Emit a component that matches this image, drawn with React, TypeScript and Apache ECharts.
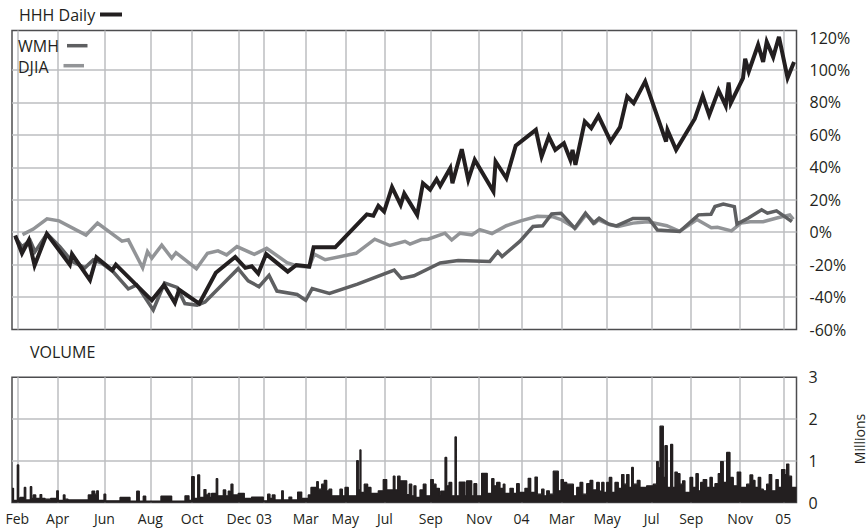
import React, { useEffect, useRef } from 'react';
import * as echarts from 'echarts';

// x values are days counted from 1 Feb 2002
const tickDays = [0, 56, 121, 185, 243, 308, 343, 401, 456, 511, 575, 642, 701, 757, 820, 882, 937, 1005, 1065];
const tickLabels = ['Feb', 'Apr', 'Jun', 'Aug', 'Oct', 'Dec', '03', 'Mar', 'May', 'Jul', 'Sep', 'Nov', '04', 'Mar', 'May', 'Jul', 'Sep', 'Nov', '05'];
const percentLabels = [-60, -40, -20, 0, 20, 40, 60, 80, 100, 120];
const percentGrid = [-40, -20, 0, 20, 40, 60, 80, 100];
const volumeLabels = [0, 1, 2, 3];
const volumeGrid = [1, 2];

const hhhDaily = [
  [-3, -2], [6.5, -13], [16, -5], [24, -20.5], [41, -1], [73, -20], [76, -13.5], [101, -29.5], [110, -15.5],
  [132, -23.5], [137, -20], [187, -42], [204, -32.5], [219, -43.5], [225, -35.5], [253, -44], [276, -25],
  [303, -15.3], [317, -22], [326, -21], [335, -25.5], [346, -13.5], [376, -24.3], [388, -20.2], [406, -21.2],
  [412, -9.3], [442, -9.3], [486, 11], [495, 10.2], [502, 16.2], [510, 12.7], [521, 27.8], [533, 16.9],
  [538, 23.8], [556, 10.7], [564, 30.2], [574, 26.3], [583, 32.7], [588, 28.6], [602, 39.5], [605, 30.2],
  [618, 51.2], [627, 32.3], [636, 44.6], [662, 25.1], [665, 43.6], [680, 33.3], [693, 53.3], [721, 63.1],
  [729, 46.7], [739, 59], [748, 50.8], [760, 54.9], [769, 44.6], [772, 50.8], [776, 41.5], [789, 68.3],
  [798, 64.2], [808, 71.8], [825, 56], [838, 64.8], [848, 83.7], [857, 79.6], [873, 93], [902, 55.9],
  [904, 63], [916, 50.8], [942, 70], [953, 84], [962, 72.2], [975, 87.5], [985, 78], [989, 92.3], [992, 79.6],
  [1009, 95], [1012, 107], [1017, 99.1], [1030, 115.6], [1037, 105], [1042, 117.5], [1051, 108], [1059, 120.5],
  [1071, 95.2], [1080, 105],
];

const wmh = [
  [-3, -3], [6.5, -9], [17.7, -5], [24.6, -12], [41.3, -1], [59.4, -9], [76, -18], [94, -22], [105.7, -17],
  [117.3, -19], [133, -24.3], [154.3, -35], [166, -32.5], [189, -48], [204.7, -31.3], [222, -34], [233, -44],
  [250, -45], [261, -43], [307, -22.5], [321, -30], [336, -33.6], [350, -26.6], [361, -36.3], [389, -38.4],
  [401, -42], [410, -34.8], [434, -37.7], [473, -32], [524, -23.3], [534, -28.5], [551.5, -26.9], [588, -19],
  [613, -17.5], [657, -18], [668, -12], [674, -15], [699, -5.5], [717, 3.5], [730.5, 4], [743, 11.3],
  [756, 11.7], [775, 2.5], [790, 11.8], [801, 5.6], [809, 8.6], [822, 5.1], [833, 3.9], [856, 8.5],
  [878, 8.5], [890, 1.4], [921, 0.4], [947, 10.7], [964.5, 11.1], [970, 15.8], [981.6, 17.3], [997, 15.8],
  [1000.6, 5], [1016.6, 8.8], [1035, 13.8], [1043, 11.7], [1055.6, 13.2], [1077, 6.5],
];

const djia = [
  [7.2, -1.5], [22.2, 1.9], [41.3, 8.3], [58, 7], [95.5, -1.7], [111.5, 5.7], [145.6, -5.5], [154.3, -4.7],
  [174.3, -22], [181, -12], [187, -16], [200.8, -8], [214.7, -16], [220.6, -12.6], [249, -22.5], [264.4, -13],
  [279, -11.5], [291, -14], [305.4, -8.9], [329.5, -13.7], [346.7, -9.9], [375, -18.8], [389, -20.8],
  [405.5, -21.6], [413, -13.5], [428, -17], [471, -13], [497, -4.3], [518, -8.2], [539, -5.6], [546, -7.3],
  [562, -4.5], [571, -4.3], [594.6, -0.6], [604, -4.8], [615.5, -0.6], [632, -1.7], [643, 1.6], [660, -0.8],
  [680, 4], [700, 7], [723, 9.8], [744, 9.6], [757, 7.6], [776, 2.5], [791, 10.9], [803, 5.6], [808, 7.6],
  [824, 4.5], [835.6, 3.5], [856, 5.6], [877, 6.5], [903, 4], [921, 0.6], [945, 7.8], [965, 2.8],
  [973.5, 3], [993, 0.8], [1006, 5.6], [1019, 6.5], [1037, 6.5], [1056, 8.8], [1074, 10.7], [1079, 8],
];

// volume in millions, each value holds until the next day listed
const volume = [
  [-7.4, 0.34], [-5.3, 0.05], [0, 0.9], [1.9, 0.1], [3.8, 0.12], [9.7, 0.36], [11.7, 0.06], [18.1, 0.38],
  [20, 0.1], [22.2, 0.18], [25.6, 0.1], [31.6, 0.19], [33.9, 0.1], [38.5, 0.08], [46.4, 0.1], [54.8, 0.28],
  [57, 0.05], [64, 0.18], [66.3, 0.08], [70.5, 0.06], [98.7, 0.18], [103.8, 0.27], [107.6, 0.2], [110.4, 0.28],
  [112.6, 0.05], [120.5, 0.2], [122.9, 0.04], [142.8, 0.12], [156.7, 0.03], [166, 0.27], [169.6, 0.03],
  [175.1, 0.15], [178.5, 0.03], [199.7, 0.15], [214.6, 0.03], [233.1, 0.16], [238.7, 0.05], [242.4, 0.62],
  [246, 0.1], [250.8, 0.66], [253.5, 0.12], [259.5, 0.31], [262.3, 0.18], [265.5, 0.22], [267.9, 0.12],
  [270.2, 0.22], [276.6, 0.57], [278.6, 0.16], [286.4, 0.3], [289.7, 0.16], [293.3, 0.27], [295.7, 0.1],
  [297.1, 0.44], [299.8, 0.18], [307.2, 0.22], [315.6, 0.1], [325.8, 0.13], [342, 0.04], [348.1, 0.2],
  [351.3, 0.1], [354.5, 0.18], [358.3, 0.06], [367.6, 0.28], [369.8, 0.06], [377.7, 0.13], [381.5, 0.06],
  [389.8, 0.25], [395.4, 0.1], [404.6, 0.18], [408.3, 0.36], [416.3, 0.5], [418.5, 0.32], [423.2, 0.44],
  [426.8, 0.53], [430.2, 0.28], [433.4, 0.32], [437.1, 0.16], [448.6, 0.32], [451.9, 0.16], [455.6, 0.36],
  [460.2, 0.16], [471.9, 1.0], [474.1, 0.3], [476.4, 1.26], [477.8, 0.24], [482.4, 0.44], [487.1, 0.36],
  [491.7, 0.22], [501.9, 0.28], [508.8, 0.55], [513.6, 0.3], [522.8, 0.63], [525.1, 0.3], [528.9, 0.63],
  [532.1, 0.52], [541.4, 0.19], [545, 0.44], [548.4, 0.16], [551.5, 0.4], [554.3, 0.12], [559.9, 0.3],
  [564.5, 0.44], [568.2, 0.16], [574.8, 0.55], [578.4, 0.44], [582.2, 0.34], [586.8, 0.16], [588.7, 0.27],
  [594.7, 1.08], [597, 0.4], [600.2, 0.48], [604, 0.16], [608.6, 1.57], [610.4, 0.16], [614.5, 0.49],
  [622.5, 0.16], [624.8, 0.52], [631.8, 0.16], [634.9, 0.45], [638.7, 0.16], [645.6, 0.7], [653.4, 0.22],
  [659.6, 0.57], [662.7, 0.4], [666.5, 0.48], [671.1, 0.34], [675.7, 0.44], [678, 0.22], [685, 0.34],
  [689.6, 0.22], [694.3, 0.45], [697.9, 0.24], [705.8, 0.34], [710.4, 0.58], [713.8, 0.24], [719.8, 0.61],
  [723, 0.2], [729.1, 0.32], [732.3, 0.16], [736.1, 0.28], [739.7, 0.2], [745.2, 0.75], [752.2, 0.28],
  [756, 0.55], [759.2, 0.48], [763.9, 0.44], [773.1, 0.16], [777.8, 0.36], [782.4, 0.48], [786.2, 0.2],
  [791.7, 0.45], [796.3, 0.53], [800.1, 0.3], [805.6, 0.48], [809.2, 0.27], [812.6, 0.48], [815.7, 0.24],
  [819.5, 0.48], [823.1, 0.6], [826.5, 0.24], [831, 0.48], [835.6, 0.34], [840.3, 0.67], [843.5, 0.44],
  [847.3, 0.67], [850.5, 0.36], [854.2, 0.84], [856.5, 0.44], [862, 0.53], [865.8, 0.36], [875.1, 0.4],
  [884.3, 0.44], [889, 0.98], [891.2, 0.83], [893.6, 1.83], [898.2, 0.6], [900.5, 1.36], [903.7, 0.36],
  [908.4, 1.39], [911.2, 0.36], [914.4, 0.73], [917.6, 0.69], [921.4, 0.44], [925.1, 0.52], [928.3, 0.24],
  [935.3, 0.6], [939, 0.36], [943.6, 0.69], [946.8, 0.28], [950.1, 0.48], [953.7, 0.55], [958.5, 0.36],
  [963.1, 0.6], [966.3, 0.36], [970, 0.45], [974.6, 0.69], [977.9, 0.98], [981.6, 0.48], [986.3, 1.2],
  [990.9, 0.6], [995.5, 0.4], [1001, 0.73], [1005.8, 0.36], [1014.1, 0.44], [1018.7, 0.66], [1022.5, 0.53],
  [1025.7, 0.36], [1030.2, 0.6], [1033.6, 0.32], [1037.2, 0.28], [1041.9, 0.44], [1045.5, 0.67],
  [1048.9, 0.28], [1054.8, 0.55], [1058, 0.36], [1062.7, 0.79], [1067.3, 0.67], [1069.7, 0.92],
  [1072.7, 0.63], [1076.5, 0.36], [1083.4, 0.36],
];

const FONT = '"Open Sans", "Noto Sans", sans-serif';
const TEXT = '#231f20';
const GRIDLINE = '#bcbec0';
const BORDER = '#4d4d4f';
const HHH_COLOR = '#231f20';
const WMH_COLOR = '#5e5f61';
const DJIA_COLOR = '#929497';

const X_MIN = -7.4;
const X_MAX = 1083.4;

function buildOption() {
  const splitLine = { show: true, lineStyle: { color: GRIDLINE, width: 1.5 } };
  const lineSeries = (name: string, data: number[][], color: string, width: number) => ({
    name,
    type: 'line',
    xAxisIndex: 0,
    yAxisIndex: 0,
    data,
    symbol: 'none',
    lineStyle: { color, width, join: 'miter', cap: 'butt' },
    z: 3,
  });
  return {
    animation: false,
    backgroundColor: '#ffffff',
    textStyle: { fontFamily: FONT, color: TEXT },
    grid: [
      { left: 12, top: 30.5, width: 784.5, height: 299, show: true, borderColor: BORDER, borderWidth: 1.5, backgroundColor: 'transparent' },
      { left: 12, top: 377.3, width: 784.5, height: 125.2, show: true, borderColor: BORDER, borderWidth: 1.5, backgroundColor: 'transparent' },
    ],
    xAxis: [
      {
        type: 'value', gridIndex: 0, min: X_MIN, max: X_MAX,
        axisLine: { show: false },
        axisTick: { show: false, customValues: tickDays },
        axisLabel: { show: false },
        splitLine,
      },
      {
        type: 'value', gridIndex: 1, min: X_MIN, max: X_MAX,
        axisLine: { show: false },
        axisTick: { show: false, customValues: tickDays },
        axisLabel: {
          show: true,
          customValues: tickDays,
          formatter: (v: number) => {
            const i = tickDays.indexOf(Math.round(v));
            return i >= 0 ? tickLabels[i] : '';
          },
          fontSize: 14,
          fontFamily: FONT,
          color: TEXT,
          margin: 9,
        },
        splitLine,
      },
    ],
    yAxis: [
      {
        type: 'value', gridIndex: 0, position: 'right', min: -60, max: 124.4,
        axisLine: { show: false },
        axisTick: { show: false, customValues: percentGrid },
        axisLabel: {
          customValues: percentLabels,
          formatter: (v: number) => `${Math.round(v)}%`,
          fontSize: 16,
          fontFamily: FONT,
          color: TEXT,
          margin: 13,
          padding: [0, 0, 6, 0],
        },
        splitLine,
      },
      {
        type: 'value', gridIndex: 1, position: 'right', min: 0, max: 3,
        axisLine: { show: false },
        axisTick: { show: false, customValues: volumeGrid },
        axisLabel: {
          customValues: volumeLabels,
          formatter: (v: number) => `${Math.round(v)}`,
          fontSize: 16,
          fontFamily: FONT,
          color: TEXT,
          margin: 12,
        },
        splitLine,
      },
    ],
    series: [
      lineSeries('DJIA', djia, DJIA_COLOR, 3.5),
      lineSeries('WMH', wmh, WMH_COLOR, 3.5),
      lineSeries('HHH Daily', hhhDaily, HHH_COLOR, 4),
      {
        name: 'Volume',
        type: 'line',
        xAxisIndex: 1,
        yAxisIndex: 1,
        data: volume,
        step: 'end',
        symbol: 'none',
        lineStyle: { color: HHH_COLOR, width: 1.3 },
        areaStyle: { color: HHH_COLOR, opacity: 1 },
        z: 3,
      },
    ],
    graphic: [
      { type: 'text', x: 19, y: 15, z: 100, style: { text: 'HHH Daily', fontSize: 16, fontFamily: FONT, fill: TEXT, verticalAlign: 'middle' } },
      { type: 'line', z: 100, shape: { x1: 100, y1: 14.5, x2: 122, y2: 14.5 }, style: { stroke: HHH_COLOR, lineWidth: 4 } },
      { type: 'text', x: 18, y: 46, z: 100, style: { text: 'WMH', fontSize: 16, fontFamily: FONT, fill: TEXT, verticalAlign: 'middle' } },
      { type: 'line', z: 100, shape: { x1: 67, y1: 45.7, x2: 87.5, y2: 45.7 }, style: { stroke: WMH_COLOR, lineWidth: 3.5 } },
      { type: 'text', x: 18, y: 66.5, z: 100, style: { text: 'DJIA', fontSize: 16, fontFamily: FONT, fill: TEXT, verticalAlign: 'middle' } },
      { type: 'line', z: 100, shape: { x1: 63.5, y1: 65.7, x2: 84, y2: 65.7 }, style: { stroke: DJIA_COLOR, lineWidth: 3.5 } },
      { type: 'text', x: 30, y: 352, z: 100, style: { text: 'VOLUME', fontSize: 16, fontFamily: FONT, fill: TEXT, verticalAlign: 'middle' } },
      { type: 'text', x: 859, y: 439, rotation: Math.PI / 2, z: 100, style: { text: 'Millions', fontSize: 14, fontFamily: FONT, fill: TEXT, align: 'center', verticalAlign: 'middle' } },
    ],
  };
}

export default function App() {
  const ref = useRef<HTMLDivElement>(null);
  useEffect(() => {
    if (!ref.current) return;
    const chart = echarts.init(ref.current, null, { renderer: 'svg' });
    chart.setOption(buildOption() as any);
    return () => chart.dispose();
  }, []);
  return (
    <div
      ref={ref}
      style={{ position: 'fixed', left: 0, top: 0, width: 867, height: 529, background: '#ffffff' }}
    />
  );
}
